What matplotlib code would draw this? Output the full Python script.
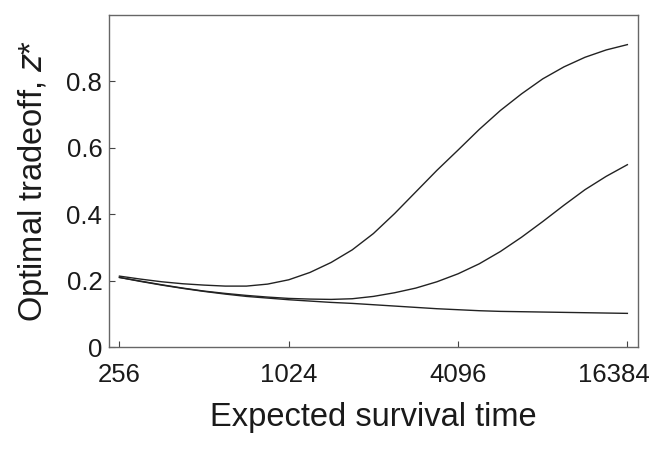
import numpy as np
import matplotlib
matplotlib.use("Agg")
import matplotlib.pyplot as plt
import matplotlib.transforms as mtransforms

# Expected survival time: quarter-octave steps from 256 to 16384
survival_time = [256 * 2 ** (k / 4) for k in range(25)]

# Optimal tradeoff z* for the three curves
z_upper = [0.214, 0.205, 0.197, 0.191, 0.187, 0.184, 0.184, 0.190, 0.203,
           0.225, 0.255, 0.293, 0.342, 0.402, 0.467, 0.532, 0.593, 0.655,
           0.712, 0.762, 0.807, 0.843, 0.872, 0.894, 0.910]
z_middle = [0.210, 0.199, 0.188, 0.178, 0.169, 0.162, 0.156, 0.151, 0.147,
            0.145, 0.144, 0.146, 0.153, 0.164, 0.178, 0.197, 0.221, 0.251,
            0.288, 0.331, 0.378, 0.427, 0.474, 0.514, 0.549]
z_lower = [0.210, 0.198, 0.187, 0.177, 0.168, 0.160, 0.153, 0.148, 0.143,
           0.139, 0.135, 0.132, 0.128, 0.124, 0.120, 0.116, 0.113, 0.110,
           0.108, 0.107, 0.106, 0.105, 0.104, 0.103, 0.102]

x_ticks = [256, 1024, 4096, 16384]
y_ticks = [0, 0.2, 0.4, 0.6, 0.8]
y_tick_labels = ["0", "0.2", "0.4", "0.6", "0.8"]

plt.rcParams['font.family'] = ['Liberation Sans', 'DejaVu Sans']

fig = plt.figure(figsize=(6.64, 4.49), dpi=100)
ax = fig.add_axes([0.1646, 0.2265, 0.7958, 0.7408])

for series in (z_upper, z_middle, z_lower):
    ax.plot(survival_time, series, color='#222222', lw=1.0)

ax.set_xscale('log', base=2)
ax.set_xlim(235.6, 17830)
ax.set_ylim(0, 1.0)
ax.set_xticks(x_ticks)
ax.set_xticklabels([str(t) for t in x_ticks])
ax.minorticks_off()
ax.set_yticks(y_ticks)
ax.set_yticklabels(y_tick_labels)

for sp in ax.spines.values():
    sp.set_color('#666666')
    sp.set_linewidth(1.0)

ax.tick_params(axis='both', direction='in', color='#444444', width=0.8,
               labelsize=18.5, labelcolor='#1a1a1a')
ax.tick_params(axis='x', length=4.5, pad=11)
ax.tick_params(axis='y', length=4, pad=5)

# last x tick label sits a little left of its tick in the reference
last = ax.get_xticklabels()[-1]
last.set_transform(last.get_transform() +
                   mtransforms.ScaledTranslation(-14 / 100, 0, fig.dpi_scale_trans))

ax.set_xlabel('Expected survival time', fontsize=23.5, color='#1a1a1a', labelpad=11)
ax.set_ylabel('Optimal tradeoff, $z$*', fontsize=23.5, color='#1a1a1a', labelpad=11)

fig.savefig('out.png', dpi=100)
